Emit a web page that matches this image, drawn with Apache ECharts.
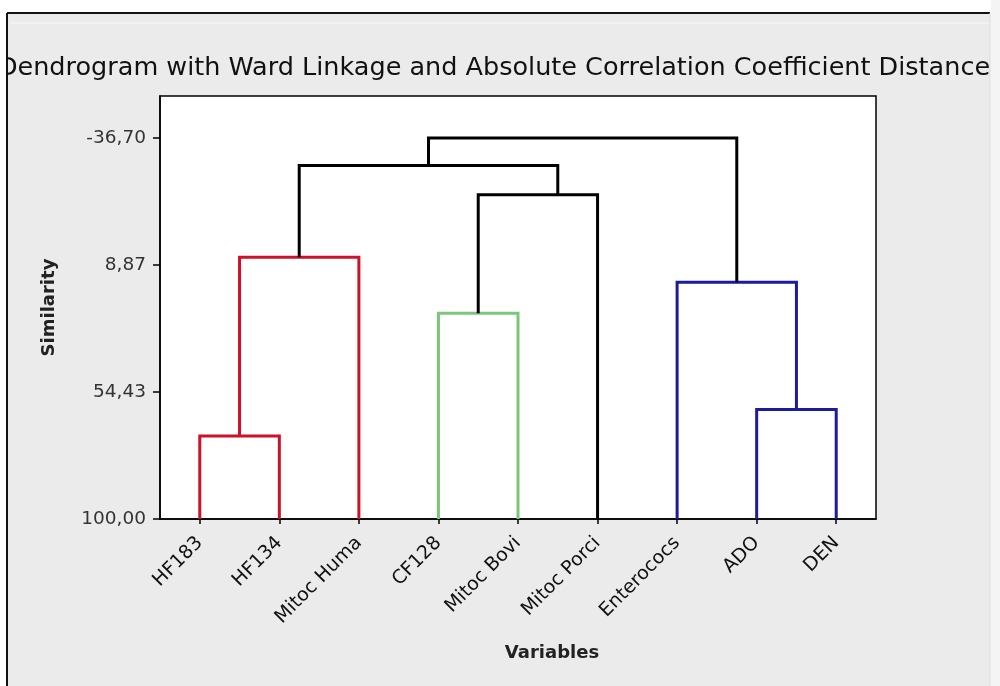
<!DOCTYPE html>
<html>
<head>
<meta charset="utf-8">
<script src="https://cdn.jsdelivr.net/npm/echarts@6/dist/echarts.min.js"></script>
<style>
  html, body { margin: 0; padding: 0; background: #ffffff; }
  #chart { width: 1000px; height: 686px; }
</style>
</head>
<body>
<div id="chart"></div>
<script>
// Variables in leaf order along the horizontal axis
const variables = ['HF183', 'HF134', 'Mitoc Huma', 'CF128', 'Mitoc Bovi', 'Mitoc Porci', 'Enterococs', 'ADO', 'DEN'];

// Ward merge steps: ids below 9 are single variables, id 9+k is the cluster formed at step k
const mergeFirst      = [0, 9, 3, 11, 10, 7, 6, 13];
const mergeSecond     = [1, 2, 4, 5, 12, 8, 14, 15];
const mergeSimilarity = [70.2, 6.1, 26.2, -16.35, -26.85, 60.7, 15.0, -36.70];
// stem position of each new cluster along the variable axis (in variable units)
const mergeStem       = [0.5, 1.25, 3.5, 4.5, 2.875, 7.5, 6.75, 4.8125];

// Tick labels
const similarityTicks = [-36.70, 8.87, 54.43, 100.00];
const variableTicks   = [0, 1, 2, 3, 4, 5, 6, 7, 8];

// Branch colours per merge step
const branchColors = ['#cc1129', '#cc1129', '#7cc67c', '#000000', '#000000', '#1b1b9c', '#1b1b9c', '#000000'];

const FONT = "'DejaVu Sans', Verdana, sans-serif";

function nodePos(id) {
  const n = variables.length;
  return id < n ? [id, 100] : [mergeStem[id - n], mergeSimilarity[id - n]];
}

const chart = echarts.init(document.getElementById('chart'), null, { renderer: 'canvas' });

chart.setOption({
  animation: false,
  backgroundColor: '#ffffff',
  grid: {
    left: 160, top: 96, right: 124, bottom: 167,
    show: true, backgroundColor: '#ffffff', borderColor: '#000000', borderWidth: 1.5
  },
  xAxis: {
    type: 'value',
    min: -0.5, max: 8.5,
    splitLine: { show: false },
    axisLine: { show: true, onZero: false, lineStyle: { color: '#000000', width: 1.5 } },
    axisTick: { show: true, customValues: variableTicks, length: 5, lineStyle: { color: '#000000', width: 1.5 } },
    axisLabel: {
      customValues: variableTicks,
      formatter: v => variables[Math.round(v)],
      rotate: 45, margin: 21,
      fontFamily: FONT, fontSize: 19, color: '#111111'
    }
  },
  yAxis: {
    type: 'value',
    inverse: true,
    min: -51.8, max: 100,
    name: 'Similarity',
    nameLocation: 'middle', nameRotate: 90, nameGap: 102,
    nameTextStyle: { fontFamily: FONT, fontSize: 18, fontWeight: 'bold', color: '#222222' },
    splitLine: { show: false },
    axisLine: { show: true, onZero: false, lineStyle: { color: '#000000', width: 1.5 } },
    axisTick: { show: true, customValues: similarityTicks, length: 7, lineStyle: { color: '#000000', width: 1.5 } },
    axisLabel: {
      customValues: similarityTicks,
      formatter: v => v.toFixed(2).replace('.', ','),
      margin: 14,
      fontFamily: FONT, fontSize: 18.5, color: '#333333'
    }
  },
  series: [{
    type: 'custom',
    data: mergeSimilarity.map((s, k) => [mergeStem[k], s]),
    renderItem: function (params, api) {
      const k = params.dataIndex;
      const a = nodePos(mergeFirst[k]);
      const b = nodePos(mergeSecond[k]);
      const h = mergeSimilarity[k];
      return {
        type: 'polyline',
        shape: { points: [api.coord([a[0], a[1]]), api.coord([a[0], h]), api.coord([b[0], h]), api.coord([b[0], b[1]])] },
        style: { stroke: branchColors[k], lineWidth: 3, fill: null, lineJoin: 'miter' }
      };
    },
    clip: false
  }],
  graphic: [
    // window frame
    { type: 'rect', z: -10, shape: { x: 7, y: 13, width: 983, height: 700 }, style: { fill: '#ebebeb' } },
    { type: 'line', z: 50, shape: { x1: 7, y1: 13, x2: 990, y2: 13 }, style: { stroke: '#111111', lineWidth: 2 } },
    { type: 'line', z: 50, shape: { x1: 7, y1: 13, x2: 7, y2: 686 }, style: { stroke: '#111111', lineWidth: 2 } },
    { type: 'line', z: 50, shape: { x1: 10, y1: 23, x2: 990, y2: 23 }, style: { stroke: '#f7f7f7', lineWidth: 1 } },
    { type: 'line', z: 50, shape: { x1: 990, y1: 13, x2: 990, y2: 686 }, style: { stroke: '#d8d8d8', lineWidth: 1 } },
    // title
    {
      type: 'text', z: 20, x: 494, y: 68,
      style: {
        text: 'Dendrogram with Ward Linkage and Absolute Correlation Coefficient Distance',
        fontFamily: FONT, fontSize: 25.5, fill: '#111111',
        textAlign: 'center', textVerticalAlign: 'middle'
      }
    },
    // cover title overflow outside the frame
    { type: 'rect', z: 40, shape: { x: 0, y: 0, width: 6, height: 686 }, style: { fill: '#ffffff' } },
    { type: 'rect', z: 40, shape: { x: 991, y: 0, width: 9, height: 686 }, style: { fill: '#f4f4f4' } },
    // horizontal axis title
    {
      type: 'text', z: 20, x: 552, y: 653,
      style: {
        text: 'Variables', fontFamily: FONT, fontSize: 18, fontWeight: 'bold', fill: '#222222',
        textAlign: 'center', textVerticalAlign: 'middle'
      }
    }
  ]
});
</script>
</body>
</html>
